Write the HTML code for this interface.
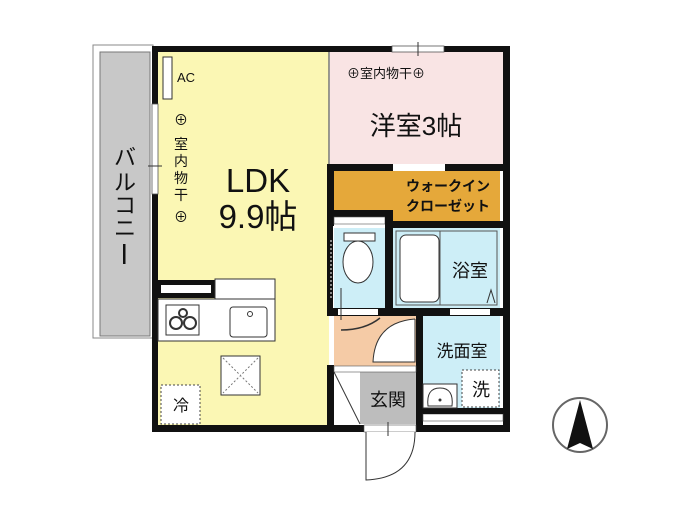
<!DOCTYPE html>
<html><head><meta charset="utf-8"><style>
html,body{margin:0;padding:0;background:#fff;width:700px;height:525px;overflow:hidden}
text{font-family:"Liberation Sans","Noto Sans CJK JP",sans-serif;fill:#111}
</style></head><body>
<svg width="700" height="525" viewBox="0 0 700 525" xmlns="http://www.w3.org/2000/svg">
<rect x="93" y="45" width="60" height="293" fill="#fff" stroke="#888" stroke-width="1"/>
<rect x="100" y="52" width="50" height="284" fill="#c8c8c8" stroke="#777" stroke-width="1"/>
<g font-size="22" text-anchor="middle">
<text x="125" y="165">バ</text><text x="125" y="190">ル</text><text x="125" y="213">コ</text><text x="125" y="236">ニ</text>
</g>
<rect x="123" y="244" width="2.5" height="20" fill="#111"/>
<rect x="158" y="52" width="171" height="374" fill="#fbf7b4"/>
<rect x="330" y="52" width="173" height="112" fill="#f9e4e4"/>
<rect x="334" y="171" width="166" height="50" fill="#e5a83a"/>
<rect x="334" y="228" width="51" height="82" fill="#cdeef7"/>
<rect x="393" y="228" width="107" height="80" fill="#cdeef7"/>
<rect x="334" y="316" width="86" height="50" fill="#f5cba6"/>
<rect x="423" y="316" width="77" height="98" fill="#cdeef7"/>
<rect x="360" y="372" width="56" height="52" fill="#bdbdbd"/>
<rect x="152" y="46" width="358" height="6" fill="#111"/>
<rect x="152" y="46" width="6" height="386" fill="#111"/>
<rect x="152" y="425" width="358" height="7" fill="#111"/>
<rect x="503" y="46" width="7" height="386" fill="#111"/>
<rect x="392" y="46" width="52" height="6" fill="#fff" stroke="#555" stroke-width="0.8"/>
<line x1="418" y1="42" x2="418" y2="56" stroke="#333"/>
<rect x="152" y="104" width="6" height="90" fill="#fff" stroke="#555" stroke-width="0.8"/>
<line x1="148" y1="166" x2="162" y2="166" stroke="#333"/>
<rect x="163" y="57" width="9" height="42" fill="#fff" stroke="#333"/>
<text x="177" y="82" font-size="13">AC</text>
<line x1="329" y1="52" x2="329" y2="170" stroke="#777" stroke-width="1.5"/>
<rect x="327" y="164" width="66" height="7" fill="#111"/>
<rect x="445" y="164" width="65" height="7" fill="#111"/>
<rect x="327" y="164" width="7" height="62" fill="#111"/>
<rect x="327" y="210" width="65" height="7" fill="#111"/>
<rect x="334" y="217" width="51" height="7" fill="#fff" stroke="#555" stroke-width="0.6"/>
<rect x="385" y="210" width="8" height="106" fill="#111"/>
<rect x="392" y="221" width="118" height="7" fill="#111"/>
<rect x="327" y="226" width="6" height="90" fill="#111"/>
<line x1="331" y1="240" x2="331" y2="300" stroke="#fff" stroke-dasharray="2 2"/>
<rect x="327" y="308" width="183" height="8" fill="#111"/>
<rect x="338" y="309" width="40" height="6" fill="#fff"/>
<rect x="450" y="309" width="40" height="6" fill="#fff"/>
<rect x="416" y="316" width="7" height="110" fill="#111"/>
<rect x="327" y="365" width="7" height="62" fill="#111"/>
<rect x="334" y="366" width="82" height="6" fill="#fff" stroke="#555" stroke-width="0.6"/>
<rect x="423" y="414" width="80" height="7" fill="#fff" stroke="#555" stroke-width="0.6"/>
<rect x="423" y="408" width="80" height="6" fill="#111"/>
<text x="347" y="78" font-size="13">⊕室内物干⊕</text>
<text x="416" y="135" font-size="26" text-anchor="middle">洋室3帖</text>
<text x="448" y="191" font-size="14" text-anchor="middle" font-weight="bold">ウォークイン</text>
<text x="448" y="211" font-size="14" text-anchor="middle" font-weight="bold">クローゼット</text>
<g font-size="14" text-anchor="middle">
<text x="181" y="125">⊕</text>
<text x="181" y="149">室</text><text x="181" y="166">内</text><text x="181" y="183">物</text><text x="181" y="200">干</text>
<text x="181" y="222">⊕</text>
</g>
<text x="258" y="192" font-size="33" text-anchor="middle">LDK</text>
<text x="258" y="228" font-size="33" text-anchor="middle">9.9帖</text>
<rect x="158" y="280" width="57" height="18" fill="#111"/>
<rect x="161" y="285" width="50" height="8" fill="#fff"/>
<rect x="215" y="279" width="60" height="20" fill="#fff" stroke="#333"/>
<rect x="158" y="299" width="117" height="42" fill="#fff" stroke="#333"/>
<rect x="166" y="305" width="33" height="30" fill="#fff" stroke="#333"/>
<circle cx="176" cy="323" r="6" fill="none" stroke="#333" stroke-width="2"/>
<circle cx="190" cy="323" r="6" fill="none" stroke="#333" stroke-width="2"/>
<circle cx="183" cy="313" r="4" fill="none" stroke="#333" stroke-width="2"/>
<rect x="230" y="307" width="37" height="30" rx="3" fill="#fff" stroke="#333"/>
<circle cx="250" cy="314" r="2.5" fill="none" stroke="#333"/>
<rect x="221" y="356" width="39" height="39" fill="#fff" stroke="#333"/>
<path d="M223 358L258 393M258 358L223 393" stroke="#777" stroke-dasharray="2 2"/>
<rect x="161" y="385" width="39" height="39" fill="#fff" stroke="#444" stroke-dasharray="2 2"/>
<text x="181" y="411" font-size="16" text-anchor="middle">冷</text>
<rect x="344" y="233" width="31" height="8" fill="#fff" stroke="#333"/>
<ellipse cx="358" cy="262" rx="15" ry="21" fill="#fff" stroke="#333"/>
<line x1="341" y1="288" x2="341" y2="320" stroke="#333"/>
<path d="M341 330 Q365 330 380 318" fill="none" stroke="#333" stroke-width="1.5"/>
<rect x="396" y="231" width="101" height="74" fill="none" stroke="#555"/>
<rect x="400" y="235" width="39" height="67" rx="6" fill="#fff" stroke="#333"/>
<line x1="440" y1="231" x2="440" y2="305" stroke="#555"/>
<text x="470" y="277" font-size="18" text-anchor="middle">浴室</text>
<path d="M487 303 L491 290 L495 303" fill="none" stroke="#333"/>
<path d="M415 319 L415 362 L373 362 Q375 322 415 319" fill="#fff" stroke="#333"/>
<text x="462" y="357" font-size="17" text-anchor="middle">洗面室</text>
<rect x="462" y="370" width="37" height="37" fill="#fff" stroke="#444" stroke-dasharray="2 2"/>
<text x="481" y="396" font-size="18" text-anchor="middle">洗</text>
<rect x="423" y="384" width="34" height="24" fill="#fff" stroke="#333"/>
<path d="M428 406 Q426 388 440 388 Q454 388 452 406 Z" fill="#fff" stroke="#333"/>
<circle cx="440" cy="400" r="1.5" fill="#333"/>
<path d="M334 372 L360 424" stroke="#333"/>
<text x="388" y="406" font-size="18" text-anchor="middle">玄関</text>
<rect x="364" y="425" width="52" height="7" fill="#fff" stroke="#555" stroke-width="0.6"/>
<path d="M366 432 L366 480 Q415 478 415 432" fill="#fff" stroke="#333"/>
<line x1="388" y1="422" x2="388" y2="436" stroke="#333"/>
<circle cx="580" cy="425" r="27" fill="#fff" stroke="#666" stroke-width="2"/>
<path d="M580 400 L567 449 L580 443 L593 449 Z" fill="#111"/>
</svg>
</body></html>
